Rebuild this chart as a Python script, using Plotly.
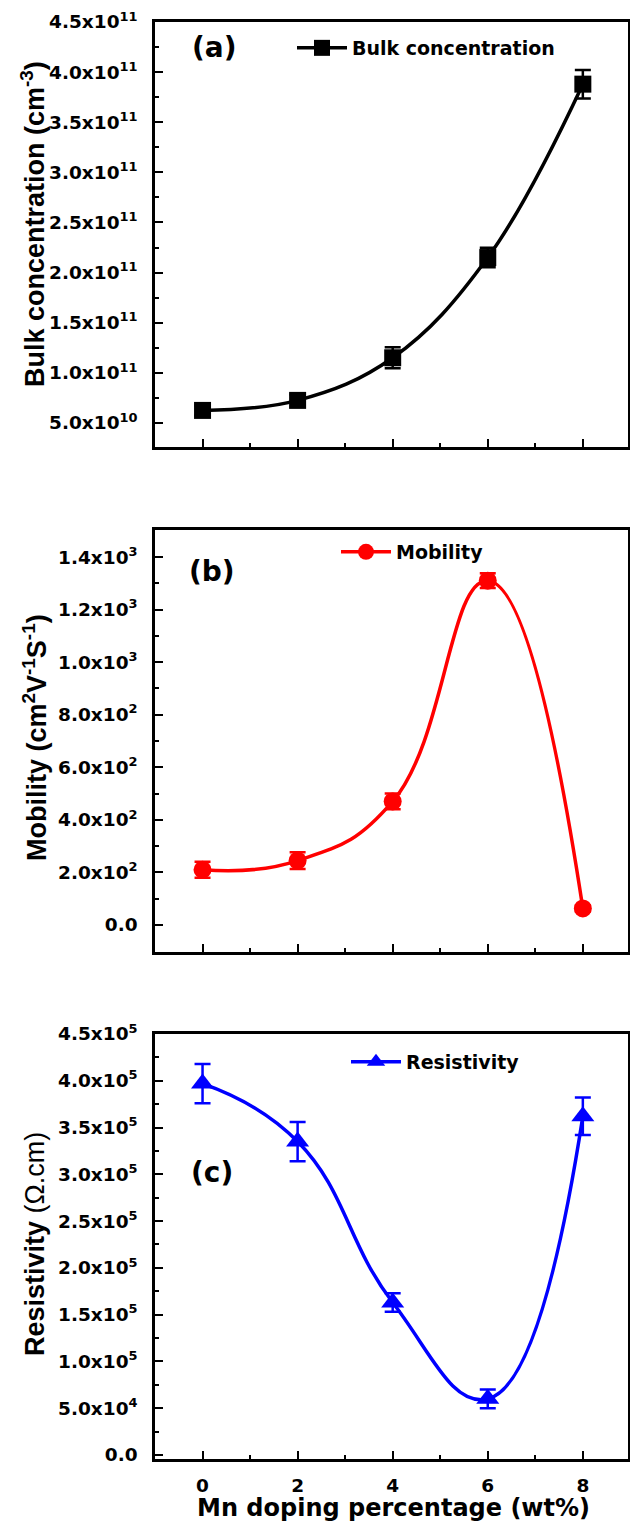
import plotly.graph_objects as go
from plotly.subplots import make_subplots

# ---------------- data ----------------
x_wt = [0, 2, 4, 6, 8]

bulk = [6.25e10, 7.25e10, 1.15e11, 2.15e11, 3.88e11]
bulk_err = [0.5e10, 0.6e10, 1.05e10, 0.97e10, 1.42e10]

mobility = [210, 245, 470, 1310, 63]
mobility_err = [30, 32, 30, 28, 12]

resistivity = [3.97e5, 3.35e5, 1.63e5, 0.60e5, 3.62e5]
resistivity_err = [0.21e5, 0.21e5, 0.10e5, 0.10e5, 0.20e5]

x_tickvals = [0, 2, 4, 6, 8]
x_ticktext = ["0", "2", "4", "6", "8"]
x_minor = [1, 3, 5, 7]

bulk_tickvals = [5e10, 1e11, 1.5e11, 2e11, 2.5e11, 3e11, 3.5e11, 4e11, 4.5e11]
bulk_ticktext = ["5.0x10<sup>10</sup>", "1.0x10<sup>11</sup>", "1.5x10<sup>11</sup>",
                 "2.0x10<sup>11</sup>", "2.5x10<sup>11</sup>", "3.0x10<sup>11</sup>",
                 "3.5x10<sup>11</sup>", "4.0x10<sup>11</sup>", "4.5x10<sup>11</sup>"]
bulk_minor = [7.5e10, 1.25e11, 1.75e11, 2.25e11, 2.75e11, 3.25e11, 3.75e11, 4.25e11]

mob_tickvals = [0, 200, 400, 600, 800, 1000, 1200, 1400]
mob_ticktext = ["0.0", "2.0x10<sup>2</sup>", "4.0x10<sup>2</sup>", "6.0x10<sup>2</sup>",
                "8.0x10<sup>2</sup>", "1.0x10<sup>3</sup>", "1.2x10<sup>3</sup>", "1.4x10<sup>3</sup>"]
mob_minor = [100, 300, 500, 700, 900, 1100, 1300]

res_tickvals = [0, 5e4, 1e5, 1.5e5, 2e5, 2.5e5, 3e5, 3.5e5, 4e5, 4.5e5]
res_ticktext = ["0.0", "5.0x10<sup>4</sup>", "1.0x10<sup>5</sup>", "1.5x10<sup>5</sup>",
                "2.0x10<sup>5</sup>", "2.5x10<sup>5</sup>", "3.0x10<sup>5</sup>",
                "3.5x10<sup>5</sup>", "4.0x10<sup>5</sup>", "4.5x10<sup>5</sup>"]
res_minor = [2.5e4, 7.5e4, 1.25e5, 1.75e5, 2.25e5, 2.75e5, 3.25e5, 3.75e5, 4.25e5]

# ---------------- figure ----------------
W, H = 630, 1523
FONT = "DejaVu Sans"
FONT_V = "Liberation Sans"

def py(p):  # page pixel from top -> paper y
    return 1 - p / H

def px(p):
    return p / W

fig = make_subplots(rows=3, cols=1)

fig.add_trace(go.Scatter(
    x=x_wt, y=bulk, name="Bulk concentration", mode="lines+markers",
    line=dict(color="black", width=3.5, shape="spline", smoothing=1.1),
    marker=dict(symbol="square", size=17, color="black"),
    error_y=dict(type="data", array=bulk_err, color="black", thickness=2.5, width=8),
    legend="legend"), row=1, col=1)

fig.add_trace(go.Scatter(
    x=x_wt, y=mobility, name="Mobility", mode="lines+markers",
    line=dict(color="#FF0000", width=3.5, shape="spline", smoothing=1.3),
    marker=dict(symbol="circle", size=18, color="#FF0000"),
    error_y=dict(type="data", array=mobility_err, color="#FF0000", thickness=2.5, width=8),
    legend="legend2"), row=2, col=1)

fig.add_trace(go.Scatter(
    x=x_wt, y=resistivity, name="Resistivity", mode="lines+markers",
    line=dict(color="#0000FF", width=3.5, shape="spline", smoothing=1.3),
    marker=dict(symbol="triangle-up", size=20, color="#0000FF"),
    error_y=dict(type="data", array=resistivity_err, color="#0000FF", thickness=2.5, width=8),
    legend="legend3"), row=3, col=1)

tickfont = dict(family=FONT, size=18.5, color="black", weight="bold")

xdom = [px(155), px(628)]
ydoms = [[py(447), py(22)], [py(952), py(530)], [py(1459), py(1034)]]
yranges = [[2.6e10, 4.5e11], [-103, 1503], [-4300, 4.5e5]]
yticks = [(bulk_tickvals, bulk_ticktext, bulk_minor),
          (mob_tickvals, mob_ticktext, mob_minor),
          (res_tickvals, res_ticktext, res_minor)]

for i in range(3):
    r = i + 1
    fig.update_xaxes(
        row=r, col=1, domain=xdom, range=[-1, 8.95],
        showline=True, linewidth=2.5, linecolor="black", mirror=True,
        ticks="inside", ticklen=8, tickwidth=2, tickcolor="black",
        tickvals=x_tickvals, ticktext=x_ticktext,
        showticklabels=(r == 3), tickfont=tickfont, ticklabelstandoff=8,
        minor=dict(ticks="inside", ticklen=4, tickwidth=2, tickcolor="black", tickvals=x_minor),
        showgrid=False, zeroline=False, automargin=False)
    tv, tt, mn = yticks[i]
    fig.update_yaxes(
        row=r, col=1, domain=ydoms[i], range=yranges[i],
        showline=True, linewidth=2.5, linecolor="black", mirror=True,
        ticks="inside", ticklen=8, tickwidth=2, tickcolor="black",
        tickvals=tv, ticktext=tt, tickfont=tickfont, ticklabelstandoff=11,
        minor=dict(ticks="inside", ticklen=4, tickwidth=2, tickcolor="black", tickvals=mn),
        showgrid=False, zeroline=False, automargin=False)

legfont = dict(family=FONT, size=19, color="black", weight="bold")
common_leg = dict(xanchor="left", yanchor="middle", bgcolor="rgba(0,0,0,0)",
                  font=legfont, borderwidth=0, itemwidth=50)
fig.update_layout(
    width=W, height=H,
    margin=dict(l=0, r=0, t=0, b=0, autoexpand=False),
    paper_bgcolor="white", plot_bgcolor="white",
    showlegend=True,
    legend=dict(x=px(292), y=py(48), **common_leg),
    legend2=dict(x=px(336), y=py(552), **common_leg),
    legend3=dict(x=px(346), y=py(1062), **common_leg),
)

titlefont_v = dict(family=FONT_V, size=27, color="black", weight="bold")
titlefont_h = dict(family=FONT, size=24, color="black", weight="bold")
labfont = dict(family=FONT, size=28, color="black", weight="bold")
ann = [
    dict(text="Bulk concentration (cm<sup>-3</sup>)", x=px(33), y=py(224), textangle=-90,
         font=titlefont_v),
    dict(text="Mobility (cm<sup>2</sup>V<sup>-1</sup>S<sup>-1</sup>)", x=px(35), y=py(738),
         textangle=-90, font=titlefont_v),
    dict(text="<b>Resistivity</b> (\u03a9.cm)", x=px(35), y=py(1244), textangle=-90,
         font=dict(family=FONT_V, size=27, color="black", weight="normal")),
    dict(text="Mn doping percentage (wt%)", x=px(393), y=py(1508), textangle=0,
         font=titlefont_h),
    dict(text="(a)", x=px(214), y=py(48), textangle=0, font=labfont),
    dict(text="(b)", x=px(212), y=py(571), textangle=0, font=labfont),
    dict(text="(c)", x=px(212), y=py(1172), textangle=0, font=labfont),
]
for a in ann:
    d = dict(xref="paper", yref="paper", xanchor="center", yanchor="middle",
             showarrow=False)
    d.update(a)
    fig.add_annotation(**d)

fig.write_html("out.html",
               config={"displayModeBar": False},
               post_script="document.body.style.margin='0px';document.body.style.overflow='hidden';")
